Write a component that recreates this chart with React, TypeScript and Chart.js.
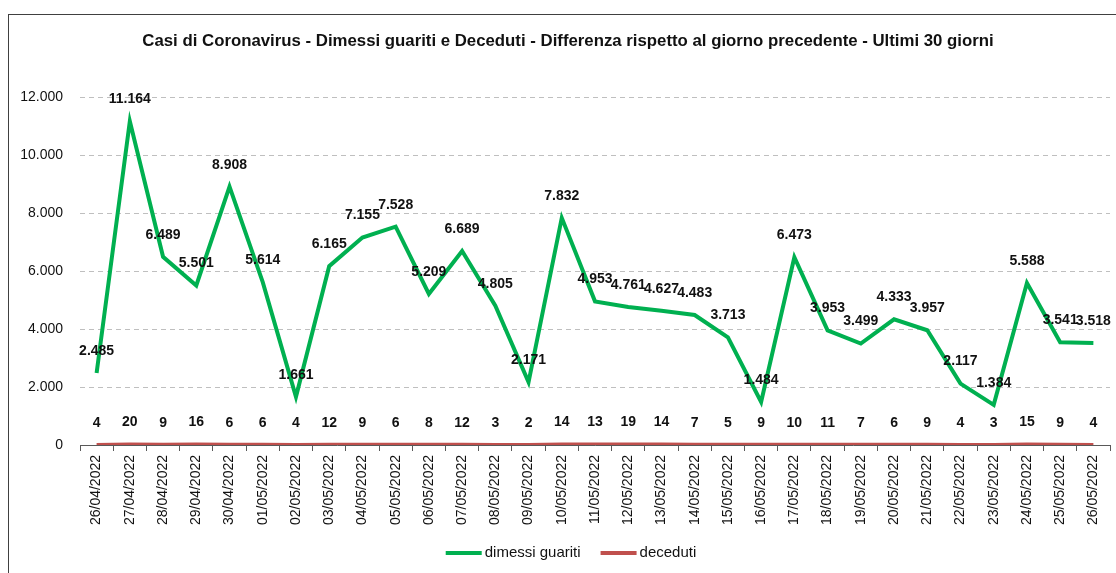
import React, { useEffect, useRef } from "react";
import { Chart, registerables } from "chart.js";

Chart.register(...registerables);

const categories = [
  "26/04/2022", "27/04/2022", "28/04/2022", "29/04/2022", "30/04/2022",
  "01/05/2022", "02/05/2022", "03/05/2022", "04/05/2022", "05/05/2022",
  "06/05/2022", "07/05/2022", "08/05/2022", "09/05/2022", "10/05/2022",
  "11/05/2022", "12/05/2022", "13/05/2022", "14/05/2022", "15/05/2022",
  "16/05/2022", "17/05/2022", "18/05/2022", "19/05/2022", "20/05/2022",
  "21/05/2022", "22/05/2022", "23/05/2022", "24/05/2022", "25/05/2022",
  "26/05/2022",
];

const dimessiGuariti = [
  2485, 11164, 6489, 5501, 8908, 5614, 1661, 6165, 7155, 7528,
  5209, 6689, 4805, 2171, 7832, 4953, 4761, 4627, 4483, 3713,
  1484, 6473, 3953, 3499, 4333, 3957, 2117, 1384, 5588, 3541,
  3518,
];

const deceduti = [
  4, 20, 9, 16, 6, 6, 4, 12, 9, 6,
  8, 12, 3, 2, 14, 13, 19, 14, 7, 5,
  9, 10, 11, 7, 6, 9, 4, 3, 15, 9,
  4,
];

const seriesNames = ["dimessi guariti", "deceduti"];
const seriesColors = ["#00b050", "#c0504d"];
const titleText =
  "Casi di Coronavirus - Dimessi guariti e Deceduti - Differenza rispetto al giorno precedente - Ultimi 30 giorni";
const yMin = 0;
const yMax = 12000;
const yStep = 2000;

const FONT = "'Liberation Sans', Arial, sans-serif";

function fmt(n: number): string {
  return String(Math.round(n)).replace(/\B(?=(\d{3})+(?!\d))/g, ".");
}

const decorPlugin = {
  id: "decor",
  afterDatasetsDraw(chart: any) {
    const ctx = chart.ctx;
    ctx.save();
    ctx.font = `bold 14px ${FONT}`;
    ctx.fillStyle = "#111";
    ctx.textAlign = "center";
    ctx.textBaseline = "middle";
    chart.data.datasets.forEach((ds: any, di: number) => {
      const meta = chart.getDatasetMeta(di);
      meta.data.forEach((el: any, i: number) => {
        ctx.fillText(fmt(ds.data[i]), el.x, el.y - 22);
      });
    });
    ctx.restore();
  },
  afterDraw(chart: any) {
    const ctx = chart.ctx;
    ctx.save();
    // title
    ctx.font = `bold 16.8px ${FONT}`;
    ctx.fillStyle = "#111";
    ctx.textAlign = "center";
    ctx.textBaseline = "middle";
    ctx.fillText(titleText, 568, 41);
    // legend
    ctx.font = `15px ${FONT}`;
    ctx.textAlign = "left";
    const y = 553;
    const items = seriesNames.map((n, i) => ({ n, c: seriesColors[i], w: ctx.measureText(n).width }));
    const sw = 36, gap = 3, between = 20;
    const total = items.reduce((s, it) => s + sw + gap + it.w, 0) + between * (items.length - 1);
    let x = 571 - total / 2;
    items.forEach((it) => {
      ctx.strokeStyle = it.c;
      ctx.lineWidth = 4;
      ctx.beginPath();
      ctx.moveTo(x, y);
      ctx.lineTo(x + sw, y);
      ctx.stroke();
      ctx.fillStyle = "#111";
      ctx.fillText(it.n, x + sw + gap, y);
      x += sw + gap + it.w + between;
    });
    ctx.restore();
  },
};

export default function App() {
  const canvasRef = useRef<HTMLCanvasElement | null>(null);

  useEffect(() => {
    const canvas = canvasRef.current;
    if (!canvas) return;
    const chart = new Chart(canvas, {
      type: "line",
      data: {
        labels: categories,
        datasets: [
          {
            label: seriesNames[0],
            data: dimessiGuariti,
            borderColor: seriesColors[0],
            backgroundColor: seriesColors[0],
            borderWidth: 4,
            pointRadius: 0,
            tension: 0,
            fill: false,
          },
          {
            label: seriesNames[1],
            data: deceduti,
            borderColor: seriesColors[1],
            backgroundColor: seriesColors[1],
            borderWidth: 4,
            pointRadius: 0,
            tension: 0,
            fill: false,
          },
        ],
      },
      options: {
        animation: false,
        responsive: true,
        maintainAspectRatio: false,
        layout: { padding: { top: 97, left: 0, right: 6, bottom: 0 } },
        plugins: {
          legend: { display: false },
          title: { display: false },
          tooltip: { enabled: false },
        },
        scales: {
          x: {
            type: "category",
            offset: true,
            grid: {
              offset: true,
              drawOnChartArea: false,
              drawTicks: true,
              tickLength: 6,
              color: "#595959",
            },
            border: { display: true, color: "#595959", width: 1 },
            ticks: {
              autoSkip: false,
              maxRotation: 90,
              minRotation: 90,
              padding: 4,
              color: "#111",
              font: { family: FONT, size: 14 },
            },
            afterFit(scale: any) {
              scale.height = 128;
            },
          },
          y: {
            min: yMin,
            max: yMax,
            grid: {
              color: "#bfbfbf",
              lineWidth: 1,
              drawTicks: false,
            },
            border: { display: false, dash: [5, 4] },
            ticks: {
              stepSize: yStep,
              padding: 17,
              color: "#111",
              font: { family: FONT, size: 14 },
              callback: (v: any) => fmt(Number(v)),
            },
            afterFit(scale: any) {
              scale.width = 80;
            },
          },
        },
      },
      plugins: [decorPlugin],
    });
    return () => chart.destroy();
  }, []);

  return (
    <div style={{ position: "fixed", left: 0, top: 0, width: 1116, height: 573, overflow: "hidden", background: "#fff" }}>
      <div
        style={{
          position: "absolute",
          left: 8,
          top: 14,
          width: 1200,
          height: 700,
          border: "1px solid #404040",
          boxSizing: "border-box",
        }}
      />
      <div style={{ position: "absolute", left: 0, top: 0, width: 1116, height: 573 }}>
        <canvas ref={canvasRef} />
      </div>
    </div>
  );
}
